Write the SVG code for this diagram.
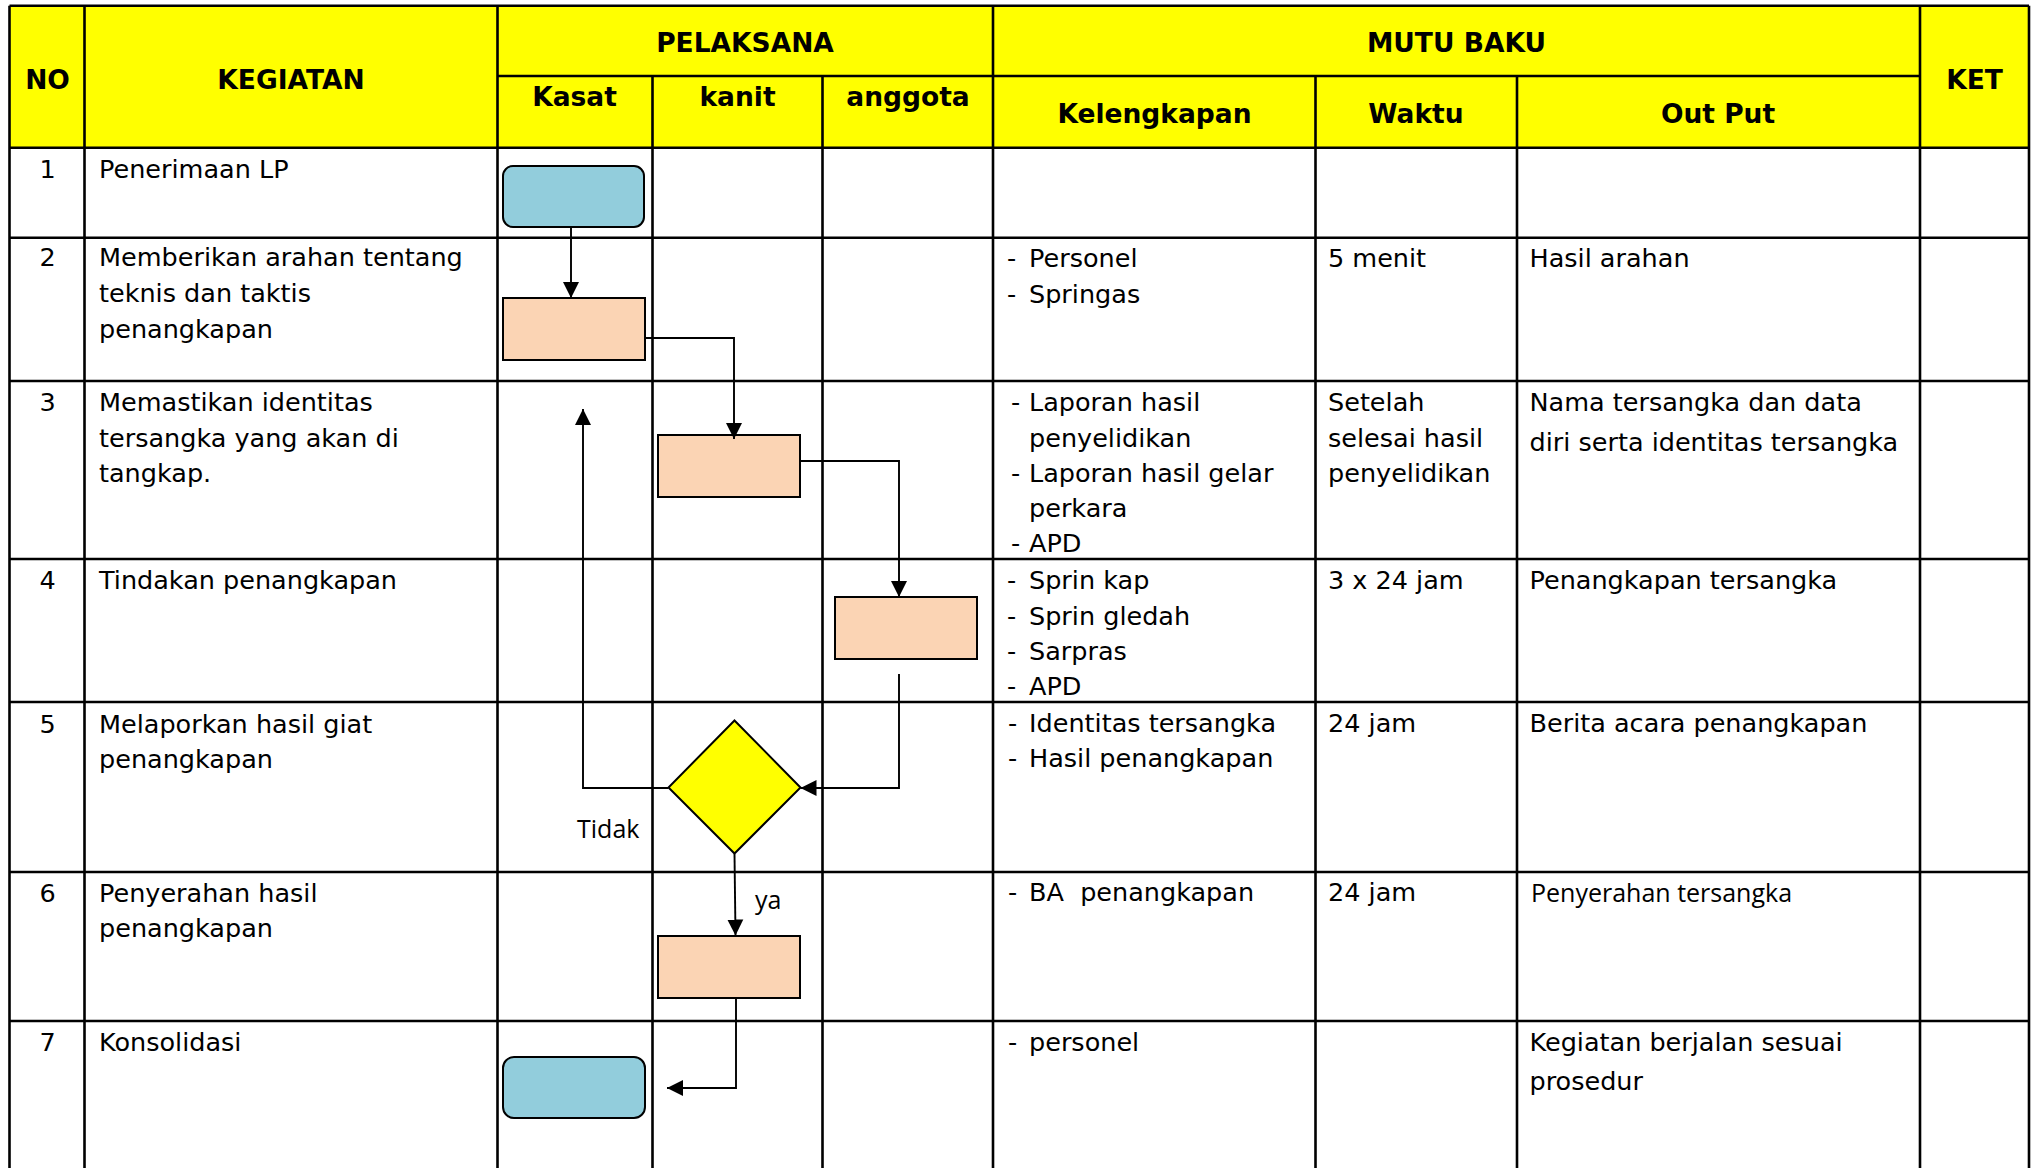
<svg xmlns="http://www.w3.org/2000/svg" width="2037" height="1168" viewBox="0 0 2037 1168">
<style>
.hdr{fill:#FFFF00}
.g{stroke:#000;stroke-width:2.6;fill:none}
.h{font-family:"DejaVu Sans",Verdana,sans-serif;font-weight:bold;font-size:26.5px;text-anchor:middle;fill:#000}
.t{font-family:"DejaVu Sans",Verdana,sans-serif;font-size:25.5px;fill:#000}
.n{text-anchor:middle}
.o{font-family:"Open Sans","Noto Sans",sans-serif;font-size:25px;fill:#000}
.blue{fill:#92CDDC;stroke:#000;stroke-width:2}
.peach{fill:#FBD4B4;stroke:#000;stroke-width:2}
.dia{fill:#FFFF00;stroke:#000;stroke-width:2}
.c{fill:none;stroke:#000;stroke-width:1.9}
</style>
<defs>
<marker id="ah" markerUnits="userSpaceOnUse" markerWidth="18" markerHeight="18" viewBox="0 0 18 18" refX="16" refY="9" orient="auto"><path d="M0,1 L16,9 L0,17 z" fill="#000"/></marker>
</defs>
<rect x="0" y="0" width="2037" height="1168" fill="#fff"/>
<g id="table">
<rect class="hdr" x="9.5" y="5.7" width="2019.5" height="142"/>
<path class="g" d="M9.5,5.7H2029 M497.5,76H1920 M9.5,147.7H2029 M9.5,237.7H2029 M9.5,381H2029 M9.5,559H2029 M9.5,702H2029 M9.5,872H2029 M9.5,1021H2029 M9.5,5.7V1168 M84.5,5.7V1168 M497.5,5.7V1168 M993,5.7V1168 M1920,5.7V1168 M2029,5.7V1168 M652.5,76V1168 M822.5,76V1168 M1315.5,76V1168 M1517,76V1168"/>
</g>
<g id="header">
<text class="h" x="47.5" y="89">NO</text>
<text class="h" x="291" y="89">KEGIATAN</text>
<text class="h" x="745" y="52.3">PELAKSANA</text>
<text class="h" x="574.5" y="105.7">Kasat</text>
<text class="h" x="737.5" y="105.7">kanit</text>
<text class="h" x="908" y="105.7">anggota</text>
<text class="h" x="1456.5" y="52.3">MUTU BAKU</text>
<text class="h" x="1154.5" y="123.3">Kelengkapan</text>
<text class="h" x="1416" y="123.3">Waktu</text>
<text class="h" x="1718" y="123.3">Out Put</text>
<text class="h" x="1974.5" y="89">KET</text>
</g>
<g id="col-no">
<text class="t n" x="47.5" y="177.5">1</text>
<text class="t n" x="47.5" y="266">2</text>
<text class="t n" x="47.5" y="411">3</text>
<text class="t n" x="47.5" y="589">4</text>
<text class="t n" x="47.5" y="732.5">5</text>
<text class="t n" x="47.5" y="901.5">6</text>
<text class="t n" x="47.5" y="1051">7</text>
</g>
<g id="col-kegiatan">
<text class="t" x="99" y="177.5">Penerimaan LP</text>
<text class="t" x="99" y="266">Memberikan arahan tentang</text>
<text class="t" x="99" y="302">teknis dan taktis</text>
<text class="t" x="99" y="338">penangkapan</text>
<text class="t" x="99" y="411">Memastikan identitas</text>
<text class="t" x="99" y="446.5">tersangka yang akan di</text>
<text class="t" x="99" y="482">tangkap.</text>
<text class="t" x="99" y="589">Tindakan penangkapan</text>
<text class="t" x="99" y="732.5">Melaporkan hasil giat</text>
<text class="t" x="99" y="768">penangkapan</text>
<text class="t" x="99" y="901.5">Penyerahan hasil</text>
<text class="t" x="99" y="937">penangkapan</text>
<text class="t" x="99" y="1051">Konsolidasi</text>
</g>
<g id="col-kelengkapan">
<text class="t" x="1007" y="266.5">-</text><text class="t" x="1029" y="266.5">Personel</text>
<text class="t" x="1007" y="302.5">-</text><text class="t" x="1029" y="302.5">Springas</text>
<text class="t" x="1011" y="411">-</text><text class="t" x="1029" y="411">Laporan hasil</text>
<text class="t" x="1029" y="446.5">penyelidikan</text>
<text class="t" x="1011" y="482">-</text><text class="t" x="1029" y="482">Laporan hasil gelar</text>
<text class="t" x="1029" y="517">perkara</text>
<text class="t" x="1011" y="552">-</text><text class="t" x="1029" y="552">APD</text>
<text class="t" x="1007" y="589">-</text><text class="t" x="1029" y="589">Sprin kap</text>
<text class="t" x="1007" y="624.5">-</text><text class="t" x="1029" y="624.5">Sprin gledah</text>
<text class="t" x="1007" y="660">-</text><text class="t" x="1029" y="660">Sarpras</text>
<text class="t" x="1007" y="695">-</text><text class="t" x="1029" y="695">APD</text>
<text class="t" x="1008" y="732">-</text><text class="t" x="1029" y="732">Identitas tersangka</text>
<text class="t" x="1008" y="767">-</text><text class="t" x="1029" y="767">Hasil penangkapan</text>
<text class="t" x="1008" y="901">-</text><text class="t" x="1029" y="901" xml:space="preserve" style="white-space:pre">BA  penangkapan</text>
<text class="t" x="1008" y="1051">-</text><text class="t" x="1029" y="1051">personel</text>
</g>
<g id="col-waktu">
<text class="t" x="1328" y="266.5">5 menit</text>
<text class="t" x="1328" y="411">Setelah</text>
<text class="t" x="1328" y="446.5">selesai hasil</text>
<text class="t" x="1328" y="482">penyelidikan</text>
<text class="t" x="1328" y="589">3 x 24 jam</text>
<text class="t" x="1328" y="732">24 jam</text>
<text class="t" x="1328" y="901">24 jam</text>
</g>
<g id="col-output">
<text class="t" x="1529.5" y="266.5">Hasil arahan</text>
<text class="t" x="1529.5" y="411">Nama tersangka dan data</text>
<text class="t" x="1529.5" y="451">diri serta identitas tersangka</text>
<text class="t" x="1529.5" y="589">Penangkapan tersangka</text>
<text class="t" x="1529.5" y="732">Berita acara penangkapan</text>
<text class="o" x="1531" y="901.5">Penyerahan tersangka</text>
<text class="t" x="1529.5" y="1051">Kegiatan berjalan sesuai</text>
<text class="t" x="1529.5" y="1090">prosedur</text>
</g>
<g id="node-start"><rect class="blue" x="503" y="166" width="141" height="61" rx="10"/></g>
<g id="node-arahan"><rect class="peach" x="503" y="298" width="142" height="62"/></g>
<g id="node-identitas"><rect class="peach" x="658" y="435" width="142" height="62"/></g>
<g id="node-tindakan"><rect class="peach" x="835" y="597" width="142" height="62"/></g>
<g id="node-decision"><polygon class="dia" points="734.5,720.5 800.5,787.5 734.5,853.5 668.5,787.5"/></g>
<g id="node-penyerahan"><rect class="peach" x="658" y="936" width="142" height="62"/></g>
<g id="node-end"><rect class="blue" x="503" y="1057" width="142" height="61" rx="11"/></g>
<g id="connectors">
<path class="c" marker-end="url(#ah)" d="M571,227 L571,298"/>
<path class="c" marker-end="url(#ah)" d="M645,338 L734,338 L734,439"/>
<path class="c" marker-end="url(#ah)" d="M800,461 L899,461 L899,597"/>
<path class="c" marker-end="url(#ah)" d="M899,674 L899,788 L800.5,788"/>
<path class="c" marker-end="url(#ah)" d="M668.5,788 L583,788 L583,409"/>
<path class="c" marker-end="url(#ah)" d="M734.5,854 L735.5,935.5"/>
<path class="c" marker-end="url(#ah)" d="M736,998 L736,1088 L667,1088"/>
<text class="o" x="577" y="838">Tidak</text>
<text class="o" x="755" y="909">ya</text>
</g>
</svg>
